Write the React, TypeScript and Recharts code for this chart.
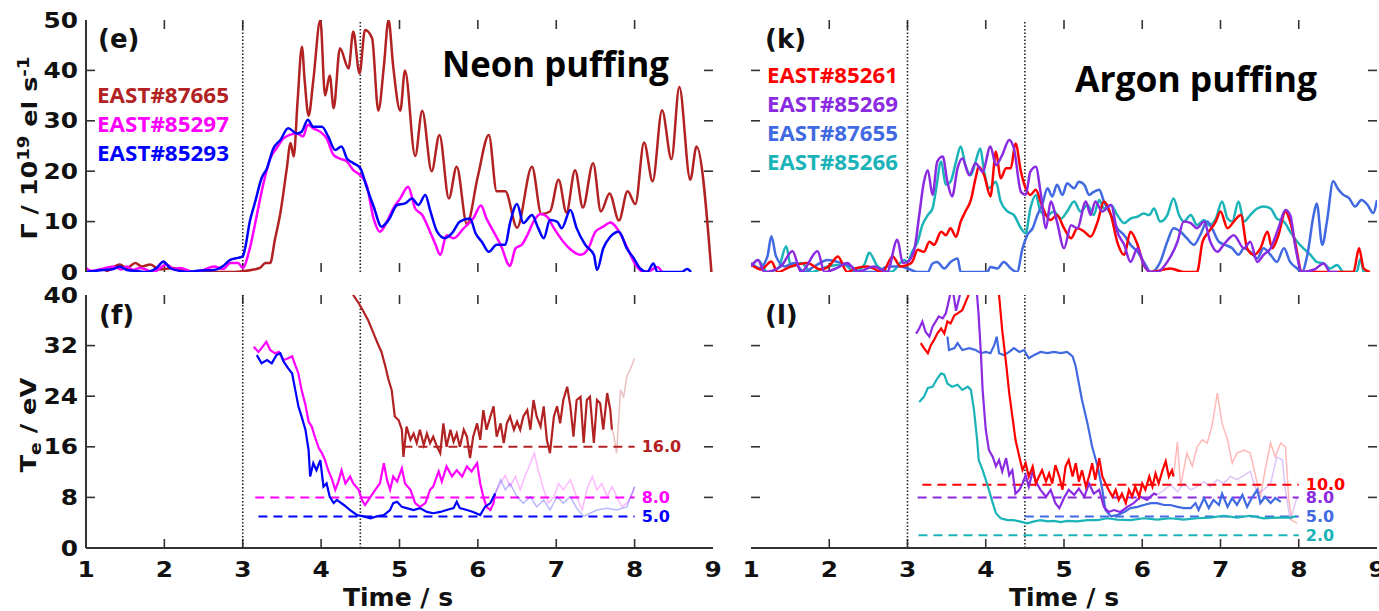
import { LineChart, Line, XAxis, YAxis, ReferenceLine } from 'recharts';

type Pt = [number, number];

// axis ticks
const timeTicks = [1, 2, 3, 4, 5, 6, 7, 8, 9];
const fluxTicks = [0, 10, 20, 30, 40, 50];
const teTicks = [0, 8, 16, 24, 32, 40];
const markerTimes = [3, 4.5];

const neonShots = ['EAST#87665', 'EAST#85297', 'EAST#85293'];
const argonShots = ['EAST#85261', 'EAST#85269', 'EAST#87655', 'EAST#85266'];

// (e) neon puffing rate, 1e19 el/s
const neonFlux87665: Pt[] = [
  [1.25, 0], [1.31, 0.5], [1.43, 1.5], [1.52, 0.8], [1.63, 1.8], [1.71, 1.1], [1.82, 1.5], [1.94, 0.5], [2.11, 0.8], [2.29, 0],
  [2.54, 0], [2.88, 0], [3.14, 0.5], [3.22, 0.8], [3.29, 1.8], [3.35, 1.8], [3.41, 6.4], [3.48, 11.7], [3.56, 20.3], [3.61, 25.6],
  [3.65, 22.9], [3.7, 34], [3.755, 44.7], [3.79, 38], [3.84, 31], [3.9, 38], [3.99, 50], [4.05, 35], [4.11, 39], [4.16, 32.5],
  [4.24, 44.4], [4.35, 40.4], [4.41, 47.7], [4.49, 39.4], [4.56, 48], [4.65, 46.4], [4.73, 32], [4.8, 40.7], [4.86, 50], [4.92, 40.7],
  [5.01, 32], [5.07, 40], [5.2, 23], [5.29, 32], [5.41, 20], [5.51, 27.2], [5.63, 14.6], [5.73, 20.9], [5.86, 9.5], [6.0, 19],
  [6.14, 27.2], [6.24, 16], [6.35, 16], [6.5, 8.8], [6.69, 20.9], [6.81, 11.5], [6.92, 12], [7.03, 18.3], [7.13, 11.8], [7.24, 20.2],
  [7.34, 12.8], [7.47, 21.6], [7.57, 12], [7.68, 15.6], [7.8, 10.2], [7.91, 16], [8.01, 13.5], [8.12, 25.7], [8.23, 18], [8.35, 32.1],
  [8.47, 22.4], [8.57, 36.7], [8.71, 18.3], [8.79, 24.9], [8.98, 0],
];
const neonFlux85297: Pt[] = [
  [1.0, 0.8], [1.07, 0.2], [1.2, 0.6], [1.35, 1.1], [1.45, 0.5], [1.52, 1.1], [1.6, 0.4], [1.69, 0.8], [1.86, 0], [2.03, 1.5],
  [2.12, 0.6], [2.2, 0.8], [2.37, 0], [2.5, 0.4], [2.63, 1.1], [2.75, 0.6], [2.84, 1.8], [2.94, 1.8], [3.0, 0.8], [3.09, 4.7],
  [3.18, 11.3], [3.26, 17.3], [3.35, 22.5], [3.43, 24.5], [3.52, 26.5], [3.6, 27.2], [3.69, 27.5], [3.77, 26.9], [3.83, 29.2], [3.9, 28.5],
  [3.99, 27.8], [4.07, 26.5], [4.16, 23.2], [4.24, 22.5], [4.33, 21.9], [4.41, 20.2], [4.5, 19.2], [4.58, 17.3], [4.67, 10.6], [4.75, 8],
  [4.84, 10], [4.92, 12.6], [5.01, 14.6], [5.11, 16.9], [5.2, 12.6], [5.29, 11.3], [5.37, 8.7], [5.46, 5.4], [5.52, 3.4], [5.6, 7.3],
  [5.69, 6.7], [5.82, 8.7], [5.94, 10.6], [6.04, 13.2], [6.11, 10.6], [6.2, 8], [6.29, 5.4], [6.41, 1.2], [6.48, 4.7], [6.56, 5.4],
  [6.63, 7.3], [6.71, 10], [6.8, 11.5], [6.88, 11], [6.97, 8.7], [7.09, 6], [7.18, 4.5], [7.31, 3.4], [7.41, 4.7], [7.5, 8],
  [7.6, 9], [7.69, 9.8], [7.82, 7.5], [7.9, 5], [8.01, 1.5], [8.11, 0], [8.2, 0.3], [8.29, 1], [8.35, 0],
];
const neonFlux85293: Pt[] = [
  [1.0, 0], [1.22, 0.4], [1.35, 0.6], [1.43, 1.1], [1.52, 0.4], [1.65, 0.2], [1.77, 0], [1.9, 0.8], [1.99, 2.1], [2.07, 0.8],
  [2.2, 0.2], [2.29, 0], [2.45, 0.3], [2.63, 0.4], [2.75, 1.2], [2.84, 2.4], [2.94, 2.8], [3.0, 3.1], [3.03, 4.7], [3.09, 10],
  [3.16, 14], [3.24, 18.6], [3.31, 20.6], [3.39, 24.5], [3.48, 26.2], [3.58, 28.5], [3.69, 27.5], [3.75, 27.8], [3.83, 30.2], [3.9, 28.8],
  [4.01, 28.8], [4.09, 26.9], [4.18, 24.2], [4.26, 24.9], [4.33, 22.5], [4.41, 21.6], [4.5, 20.6], [4.58, 16.9], [4.67, 13], [4.77, 9],
  [4.86, 10.3], [4.97, 13.3], [5.07, 13.6], [5.16, 14.6], [5.24, 13.3], [5.33, 15.3], [5.39, 12.3], [5.48, 8], [5.58, 6.7], [5.67, 7.7],
  [5.77, 10], [5.9, 10.6], [5.97, 7.7], [6.05, 6], [6.14, 4], [6.24, 5.4], [6.35, 5.4], [6.41, 9.7], [6.5, 13.5], [6.58, 9.7],
  [6.69, 11.3], [6.77, 8.7], [6.84, 6.7], [6.92, 10.3], [7.01, 10], [7.07, 8.7], [7.18, 12.3], [7.26, 8.7], [7.37, 5.4], [7.48, 3.4],
  [7.52, 0.4], [7.6, 4.7], [7.69, 7], [7.8, 8], [7.9, 4.7], [7.99, 2.7], [8.07, 0.7], [8.16, 0], [8.24, 1.7], [8.29, 0],
  [8.6, 0], [8.67, 0.6], [8.72, 0],
];

// (k) argon puffing rate
const argonFlux85261: Pt[] = [
  [1.0, 1.5], [1.13, 0.5], [1.26, 2.1], [1.34, 0], [1.51, 1.1], [1.72, 1.8], [1.89, 0.5], [2.0, 1.2], [2.11, 3.1], [2.23, 0],
  [2.35, 0.8], [2.49, 1.1], [2.68, 0], [2.81, 3.1], [2.91, 1.1], [3.0, 1.4], [3.06, 2], [3.13, 4.4], [3.21, 4], [3.28, 6],
  [3.34, 5.4], [3.43, 8], [3.49, 7.3], [3.55, 8.7], [3.62, 7], [3.68, 10], [3.74, 12], [3.81, 14.3], [3.87, 18.6], [3.91, 20.9],
  [3.98, 19.2], [4.06, 15], [4.13, 23.9], [4.19, 18.6], [4.26, 20.6], [4.32, 20.6], [4.38, 25.5], [4.45, 19.9], [4.51, 16.6], [4.57, 15.3],
  [4.64, 16.3], [4.7, 14], [4.77, 11.3], [4.83, 10.3], [4.91, 11.3], [5.0, 8.7], [5.09, 6.7], [5.17, 8.7], [5.26, 8], [5.34, 7],
  [5.43, 10], [5.51, 14], [5.6, 11.3], [5.68, 6], [5.77, 3.4], [5.85, 8], [5.94, 5.4], [6.02, 1.4], [6.11, 0], [6.36, 0.7],
  [6.53, 0], [6.7, 0], [6.77, 6], [6.85, 8], [6.94, 10], [7.0, 12], [7.09, 8.7], [7.17, 10], [7.26, 11.3], [7.34, 4.7],
  [7.43, 3.4], [7.51, 4.7], [7.6, 8], [7.66, 4.7], [7.74, 7.3], [7.83, 12], [7.89, 10], [7.96, 5.4], [8.04, 0], [8.32, 0],
  [8.7, 0], [8.77, 4.7], [8.83, 0.7], [8.91, 0],
];
const argonFlux85269: Pt[] = [
  [1.0, 1.1], [1.09, 2.4], [1.17, 0], [1.38, 1.1], [1.53, 4.1], [1.64, 0], [1.85, 4.1], [1.94, 0], [2.1, 0.8], [2.23, 1.8],
  [2.36, 0], [2.57, 1.1], [2.74, 0], [2.87, 6.4], [2.94, 1.8], [3.0, 2], [3.09, 4.7], [3.15, 11.3], [3.21, 17.9], [3.26, 20.2],
  [3.32, 15.3], [3.38, 21.9], [3.45, 22.9], [3.51, 17.9], [3.57, 15], [3.64, 20.6], [3.7, 22.5], [3.79, 19.2], [3.87, 21.6], [3.96, 19.9],
  [4.06, 24.9], [4.13, 21.2], [4.21, 23.2], [4.3, 26.2], [4.36, 24.5], [4.45, 15.9], [4.51, 15.3], [4.57, 19.9], [4.64, 20.9], [4.7, 15.9],
  [4.77, 8.7], [4.83, 14], [4.91, 10], [5.0, 4.7], [5.09, 9.3], [5.17, 8.7], [5.28, 14], [5.34, 11.3], [5.4, 14], [5.49, 12],
  [5.6, 13.3], [5.68, 8], [5.77, 5.4], [5.85, 2], [5.94, 4.7], [6.02, 1.4], [6.11, 0], [6.19, 0], [6.32, 2], [6.45, 6],
  [6.53, 10], [6.62, 9.7], [6.7, 8.7], [6.79, 10], [6.87, 6], [6.96, 4], [7.04, 5.4], [7.17, 7.3], [7.3, 4.7], [7.38, 6],
  [7.47, 2], [7.55, 3.4], [7.64, 4.7], [7.74, 8.7], [7.83, 12.3], [7.89, 11.3], [7.96, 4.7], [8.04, 0], [8.2, 0.5], [8.32, 1.7],
  [8.4, 0], [8.5, 0],
];
const argonFlux87655: Pt[] = [
  [1.0, 1.8], [1.11, 0.8], [1.21, 3.1], [1.26, 7.1], [1.32, 3.1], [1.43, 1.1], [1.55, 1.8], [1.68, 0], [1.81, 1.1], [1.98, 2.4],
  [2.15, 1.8], [2.28, 1.1], [2.4, 0], [2.62, 0], [2.74, 1.1], [2.91, 1.1], [3.0, 0.7], [3.13, 0], [3.26, 0], [3.32, 1.7],
  [3.38, 2], [3.47, 0.7], [3.55, 2], [3.64, 2.7], [3.68, 0], [3.85, 0], [4.02, 0], [4.06, 1], [4.15, 0.7], [4.23, 2],
  [4.32, 0.7], [4.4, 0], [4.47, 4.7], [4.53, 7.3], [4.6, 8.7], [4.66, 11.3], [4.72, 13.3], [4.79, 16.6], [4.85, 15], [4.91, 17.3],
  [4.98, 15.3], [5.04, 17.6], [5.13, 16.6], [5.19, 17.9], [5.26, 17.3], [5.32, 15.3], [5.38, 15.9], [5.45, 16.3], [5.51, 14], [5.6, 11.3],
  [5.68, 8.7], [5.77, 7.3], [5.85, 5.4], [5.94, 4], [6.02, 2], [6.11, 0], [6.23, 2], [6.32, 6], [6.4, 8.7], [6.49, 8],
  [6.57, 6.7], [6.66, 5.4], [6.74, 7.3], [6.83, 10], [6.89, 8.7], [6.98, 6], [7.06, 5.4], [7.15, 4.7], [7.23, 3.4], [7.3, 4.7],
  [7.38, 4], [7.47, 2.7], [7.55, 4.7], [7.64, 3.4], [7.72, 2], [7.81, 4.7], [7.89, 2], [7.98, 0.7], [8.04, 0], [8.11, 3.4],
  [8.19, 11.3], [8.23, 13.6], [8.3, 5.4], [8.36, 10], [8.44, 18], [8.5, 16.5], [8.57, 15.3], [8.64, 14.7], [8.72, 13], [8.8, 14.3],
  [8.88, 13.3], [8.95, 11.7], [9.0, 14.3],
];
const argonFlux85266: Pt[] = [
  [1.0, 1.1], [1.09, 2.4], [1.21, 0], [1.35, 0.8], [1.45, 5.1], [1.51, 1.1], [1.64, 1.8], [1.77, 0], [1.98, 1.1], [2.19, 1.5],
  [2.32, 0], [2.45, 1.5], [2.51, 3.8], [2.62, 1.1], [2.79, 0], [2.96, 2.4], [3.0, 2], [3.06, 4], [3.13, 6], [3.19, 9.3],
  [3.26, 11.3], [3.32, 12.6], [3.36, 15.9], [3.43, 21.9], [3.49, 17.3], [3.55, 17.9], [3.62, 21.9], [3.68, 24.9], [3.74, 21.2], [3.81, 19.2],
  [3.87, 21.9], [3.93, 24.5], [3.98, 19.9], [4.04, 16.6], [4.13, 17.9], [4.19, 14], [4.28, 12], [4.36, 11.3], [4.45, 8.7], [4.51, 7.7],
  [4.57, 12.6], [4.64, 15.3], [4.7, 12], [4.79, 11.3], [4.87, 12], [4.96, 10.6], [5.04, 12], [5.13, 14], [5.21, 12], [5.3, 13.3],
  [5.38, 11.3], [5.45, 14.3], [5.51, 12.6], [5.6, 13.3], [5.68, 11.3], [5.77, 9.7], [5.85, 10.6], [5.94, 11], [6.02, 11.6], [6.09, 11.3],
  [6.15, 12.6], [6.23, 10], [6.32, 11.3], [6.4, 14.6], [6.47, 11.3], [6.53, 10], [6.62, 11.3], [6.7, 9.3], [6.79, 10.3], [6.85, 9.3],
  [6.94, 10.6], [7.02, 14], [7.09, 10.6], [7.15, 10], [7.23, 14], [7.3, 10], [7.38, 11.3], [7.47, 12.6], [7.55, 13], [7.64, 12.6],
  [7.72, 10.6], [7.81, 10], [7.89, 8], [7.98, 6], [8.06, 4.7], [8.15, 3.4], [8.23, 2], [8.32, 1.7], [8.4, 0.7], [8.49, 1.4],
  [8.57, 0], [8.74, 0], [8.79, 2.7], [8.83, 0], [8.9, 0],
];

// (f) neon Te, eV (faded = later part drawn light)
const neonTe87665: Pt[] = [
  [4.38, 41], [4.41, 40], [4.48, 38.7], [4.54, 37.4], [4.6, 36], [4.67, 33.9], [4.73, 32.1], [4.77, 31], [4.82, 28.7], [4.86, 26.6],
  [4.9, 25], [4.94, 20.8], [4.99, 20.2], [5.03, 18.7], [5.05, 14.4], [5.09, 19.2], [5.14, 17.1], [5.18, 18.1], [5.22, 16.6], [5.26, 18.7],
  [5.31, 16.3], [5.35, 18.1], [5.39, 16.6], [5.43, 17.6], [5.48, 16], [5.52, 15], [5.56, 19.7], [5.6, 16], [5.65, 18.7], [5.69, 16.8],
  [5.73, 18.1], [5.77, 16], [5.82, 18.7], [5.86, 17.6], [5.9, 14.2], [5.94, 17.6], [5.99, 19.7], [6.03, 17.1], [6.07, 21.8], [6.11, 18.7],
  [6.16, 20.8], [6.2, 22.4], [6.24, 17.6], [6.29, 19.7], [6.33, 16.6], [6.37, 19.7], [6.41, 20.8], [6.46, 18.7], [6.5, 20], [6.54, 18.7],
  [6.58, 20.8], [6.63, 21.8], [6.67, 18.7], [6.71, 23.4], [6.75, 20.8], [6.8, 19.2], [6.84, 22.4], [6.88, 17.1], [6.92, 15], [6.97, 20.8],
  [7.01, 22.4], [7.05, 19.7], [7.09, 23.4], [7.14, 25.5], [7.18, 22.4], [7.22, 17.6], [7.26, 23.4], [7.31, 23.9], [7.35, 16.6], [7.39, 23.4],
  [7.43, 23.9], [7.48, 16.6], [7.52, 23.4], [7.56, 22.9], [7.6, 18.7], [7.65, 24.5], [7.69, 21.8], [7.71, 18.7],
];
const neonTe87665Faded: Pt[] = [
  [7.71, 18.7], [7.73, 18.1], [7.77, 15], [7.82, 25], [7.86, 23.9], [7.9, 27.1], [7.94, 28.1], [8.0, 30],
];
const neonTe85297: Pt[] = [
  [3.14, 31.8], [3.2, 31], [3.24, 31.6], [3.3, 32.6], [3.35, 31.3], [3.41, 30.8], [3.46, 31], [3.52, 29.7], [3.58, 30], [3.63, 30.3],
  [3.67, 28.9], [3.71, 27.6], [3.75, 25], [3.8, 22.6], [3.84, 20], [3.88, 19.2], [3.92, 17.6], [3.97, 15.8], [4.01, 15], [4.05, 13.9],
  [4.09, 12.3], [4.14, 10.8], [4.18, 9.2], [4.22, 10.5], [4.26, 12.3], [4.31, 10.2], [4.37, 11.3], [4.41, 10.2], [4.48, 9.2], [4.52, 7.6],
  [4.56, 6.8], [4.63, 8.1], [4.69, 9.2], [4.75, 10.2], [4.8, 13.4], [4.84, 10.8], [4.88, 9.2], [4.92, 11.3], [4.97, 10.5], [5.03, 12.6],
  [5.07, 10.2], [5.14, 9.2], [5.2, 7.1], [5.26, 6.5], [5.33, 7.1], [5.39, 9.2], [5.43, 9.7], [5.5, 12.1], [5.54, 10.5], [5.6, 12.9],
  [5.67, 11.3], [5.73, 12.3], [5.8, 11.3], [5.86, 12.9], [5.92, 12.1], [5.99, 13.4], [6.03, 10.2], [6.07, 8.1], [6.11, 6.5], [6.16, 6],
  [6.2, 7.1], [6.22, 8.6],
];
const neonTe85297Faded: Pt[] = [
  [6.22, 8.6], [6.29, 10.2], [6.35, 11.5], [6.41, 9.7], [6.48, 11.3], [6.54, 9.2], [6.6, 11.3], [6.67, 13.4], [6.72, 15], [6.77, 12.3],
  [6.84, 9.2], [6.9, 7.1], [6.97, 8.1], [7.03, 10.2], [7.09, 9.2], [7.18, 10.8], [7.26, 8.1], [7.33, 6], [7.39, 9.2], [7.46, 11.3],
  [7.52, 9.2], [7.58, 10.2], [7.65, 8.1], [7.71, 9.7], [7.77, 8.1], [7.84, 6.5], [7.9, 7.1], [7.97, 8.6], [8.0, 9.7],
];
const neonTe85293: Pt[] = [
  [3.18, 30.5], [3.24, 29.2], [3.31, 29.7], [3.37, 29.2], [3.43, 30.5], [3.48, 30.8], [3.52, 29.5], [3.58, 28.4], [3.63, 27.6], [3.67, 25],
  [3.71, 22.4], [3.75, 20.8], [3.8, 18.7], [3.84, 15.5], [3.86, 11.3], [3.9, 13.4], [3.94, 12.3], [3.99, 13.9], [4.03, 9.7], [4.07, 10.2],
  [4.11, 8.1], [4.16, 7.1], [4.2, 7.6], [4.29, 6.8], [4.37, 6], [4.46, 5.2], [4.54, 5], [4.63, 4.7], [4.71, 5], [4.8, 5.2],
  [4.88, 6], [4.92, 7.1], [4.97, 7.3], [5.03, 6.5], [5.09, 6.3], [5.18, 6], [5.26, 6.3], [5.35, 5.7], [5.43, 5.5], [5.52, 5.7],
  [5.6, 6], [5.69, 6.3], [5.73, 7.3], [5.77, 6.3], [5.86, 6], [5.94, 5.7], [6.03, 5.2], [6.09, 6.5], [6.16, 7.1], [6.22, 8.6],
];
const neonTe85293Faded: Pt[] = [
  [6.22, 8.6], [6.29, 10.8], [6.35, 9.2], [6.41, 10.2], [6.5, 8.1], [6.58, 7.1], [6.67, 8.1], [6.75, 6.5], [6.84, 7.6], [6.92, 6],
  [7.01, 8.1], [7.09, 7.1], [7.18, 8.1], [7.26, 6.3], [7.35, 5], [7.43, 5.5], [7.52, 6], [7.65, 6.3], [7.77, 6], [7.9, 6.5],
  [8.0, 9.7],
];

// (l) argon Te, eV
const argonTe85261: Pt[] = [
  [3.17, 32.4], [3.21, 31.6], [3.26, 30.8], [3.3, 32.1], [3.34, 32.9], [3.38, 33.9], [3.43, 34.7], [3.47, 33.9], [3.51, 35.8], [3.55, 35.5],
  [3.6, 36.8], [3.64, 37.1], [3.7, 37.6], [3.77, 39.7], [3.81, 41], [3.9, 44], [4.0, 46], [4.1, 44], [4.17, 40], [4.21, 34.5],
  [4.26, 29.2], [4.3, 24.5], [4.34, 20.8], [4.38, 17.1], [4.43, 14.4], [4.47, 12.3], [4.51, 13.4], [4.55, 11.3], [4.6, 12.9], [4.64, 10.2],
  [4.68, 11.3], [4.72, 12.3], [4.77, 10.5], [4.81, 11.8], [4.85, 10.2], [4.89, 13.1], [4.94, 11.3], [4.98, 9.2], [5.02, 12.9], [5.06, 13.9],
  [5.11, 11.3], [5.15, 13.4], [5.19, 10.5], [5.23, 12.3], [5.28, 9.7], [5.32, 11.3], [5.36, 13.4], [5.4, 10.8], [5.45, 14.2], [5.49, 11.3],
  [5.53, 10.2], [5.57, 9.2], [5.62, 8.1], [5.66, 9.2], [5.7, 7.6], [5.74, 8.6], [5.79, 7.1], [5.83, 9.2], [5.87, 8.1], [5.91, 9.7],
  [5.96, 8.1], [6.0, 10.2], [6.04, 9.2], [6.09, 11.3], [6.13, 9.7], [6.17, 11.8], [6.21, 10.2], [6.26, 12.3], [6.3, 13.7], [6.34, 11.3],
  [6.38, 12.3], [6.4, 11.3],
];
const argonTe85261Faded: Pt[] = [
  [6.4, 11.3], [6.45, 16.8], [6.49, 9.7], [6.57, 15], [6.64, 12.9], [6.7, 16], [6.77, 17.1], [6.83, 16.6], [6.89, 19.2], [6.96, 24.5],
  [7.02, 19.7], [7.09, 17.1], [7.15, 13.4], [7.21, 15], [7.3, 15.5], [7.38, 15], [7.45, 11.3], [7.51, 8.1], [7.57, 12.3], [7.64, 16.6],
  [7.7, 14.4], [7.77, 16.6], [7.83, 16], [7.87, 8.1], [7.91, 4.4], [7.98, 3.9],
];
const argonTe85269: Pt[] = [
  [3.11, 33.9], [3.15, 34.7], [3.19, 35.8], [3.23, 34.2], [3.28, 33.4], [3.32, 35], [3.36, 35.8], [3.4, 36.6], [3.45, 36.3], [3.49, 37.1],
  [3.53, 39.2], [3.57, 41.5], [3.62, 37.5], [3.66, 39.5], [3.71, 42.5], [3.8, 44], [3.88, 41.5], [3.91, 36.6], [3.94, 30.3], [3.96, 25],
  [4.0, 18.7], [4.04, 15.5], [4.09, 14.4], [4.13, 12.9], [4.17, 13.9], [4.21, 12.1], [4.26, 14.2], [4.3, 11.5], [4.34, 12.3], [4.38, 8.6],
  [4.43, 9.2], [4.47, 10.2], [4.51, 11.5], [4.55, 9.7], [4.6, 12.1], [4.64, 10.5], [4.7, 9.2], [4.77, 8.1], [4.83, 9.2], [4.89, 7.1],
  [4.94, 6.3], [5.0, 7.9], [5.06, 9.2], [5.13, 8.4], [5.19, 9.4], [5.26, 8.1], [5.32, 10.2], [5.38, 8.6], [5.45, 9.2], [5.51, 6.5],
  [5.57, 5.7], [5.64, 6], [5.72, 5.7], [5.81, 6.5], [5.89, 7.1], [5.98, 8.1], [6.06, 7.6], [6.15, 8.6], [6.19, 8.4],
];
const argonTe85269Faded: Pt[] = [
  [6.19, 8.4], [6.28, 9.2], [6.36, 10], [6.45, 8.9], [6.53, 10.2], [6.62, 9.2], [6.7, 9.7], [6.79, 10.5], [6.87, 9.7], [6.96, 10.8],
  [7.04, 10.2], [7.13, 11.3], [7.21, 10.8], [7.3, 11.5], [7.38, 12.1], [7.47, 8.6], [7.55, 9.2], [7.64, 10.2], [7.72, 14.4], [7.79, 13.9],
  [7.83, 9.2], [7.89, 4.4], [7.98, 8.1],
];
const argonTe87655: Pt[] = [
  [3.51, 33.4], [3.53, 31.3], [3.6, 31.6], [3.64, 32.4], [3.7, 31.3], [3.79, 31.6], [3.87, 31.3], [3.94, 30.8], [4.0, 31], [4.06, 30.8],
  [4.11, 32.1], [4.14, 33.4], [4.17, 30.8], [4.23, 30.5], [4.3, 31], [4.36, 31.6], [4.43, 31], [4.49, 31.3], [4.55, 30], [4.62, 30.5],
  [4.7, 31], [4.79, 30.8], [4.87, 31], [4.96, 30.8], [5.04, 31], [5.11, 30.3], [5.15, 28.7], [5.19, 26], [5.23, 23.4], [5.3, 19.7],
  [5.36, 16], [5.43, 12.9], [5.49, 9.2], [5.53, 6], [5.6, 5], [5.68, 5.2], [5.77, 5.7], [5.85, 6.3], [5.94, 6.5], [6.02, 6.8],
  [6.11, 7.1], [6.19, 7.1], [6.28, 6.8], [6.36, 6.8], [6.45, 6.5], [6.53, 6.3], [6.62, 6.3], [6.68, 7.1], [6.72, 6], [6.79, 7.9],
  [6.85, 6.3], [6.91, 7.6], [6.98, 6.8], [7.02, 8.6], [7.09, 6.5], [7.15, 7.9], [7.21, 6.8], [7.28, 8.4], [7.34, 6.5], [7.4, 7.9],
  [7.47, 9.2], [7.51, 7.1], [7.57, 8.1], [7.64, 7.1], [7.7, 7.9], [7.77, 7.3],
];
const argonTe85266: Pt[] = [
  [3.15, 23.1], [3.21, 23.9], [3.26, 25.3], [3.32, 25.5], [3.38, 26.8], [3.43, 27.6], [3.47, 27.4], [3.51, 26], [3.57, 25.5], [3.64, 25.8],
  [3.7, 25], [3.77, 25.5], [3.81, 25], [3.85, 21.8], [3.89, 17.1], [3.91, 13.9], [3.96, 12.3], [4.0, 10.8], [4.04, 9.2], [4.09, 7.1],
  [4.13, 5.5], [4.19, 4.7], [4.28, 4.4], [4.36, 4.4], [4.43, 4.2], [4.53, 3.9], [4.62, 4.2], [4.7, 4.4], [4.79, 4.2], [4.87, 4.3],
  [4.96, 4.1], [5.04, 4.3], [5.17, 4.2], [5.3, 4.4], [5.43, 4.4], [5.55, 4.7], [5.68, 4.5], [5.85, 4.4], [6.02, 4.7], [6.19, 4.5],
  [6.36, 4.7], [6.53, 4.5], [6.7, 4.7], [6.87, 4.8], [7.04, 5.1], [7.21, 4.8], [7.38, 5.1], [7.55, 4.7], [7.72, 4.8], [7.89, 4.8],
  [7.96, 5],
];

// detachment threshold levels (value, start time); all end at 8 s
const neonLevels = [16, 8, 5];
const neonLevelStart = [5.05, 3.16, 3.2];
const argonLevels = [10, 8, 5, 2];
const argonLevelStart = [3.19, 3.13, 4.5, 3.14];
const levelEnd = 8;

const BROWN = '#b22222';
const MAGENTA = '#ff00ff';
const BLUE = '#0000ff';
const RED = '#ff0000';
const PURPLE = '#8a2be2';
const ROYAL = '#4169e1';
const CYAN = '#1ab4b8';

const neonColors = [BROWN, MAGENTA, BLUE];
const argonColors = [RED, PURPLE, ROYAL, CYAN];

const AXIS = '#333';
const FONT = 'DejaVu Sans';
const TITLE_FONT = 'Open Sans';
const TICK_LEN = 9; // px, ticks point into the frame

const toRows = (arr: Pt[]) => arr.map(([t, v]) => ({ t, v }));

const XLabel = ({ x, y, payload }: any) => (
  <g transform={`translate(${x},${y + 29}) scale(1.18,1)`}>
    <text x={0} y={0} textAnchor="middle" fontFamily={FONT} fontWeight="bold" fontSize={21} fill="#111" stroke="none">
      {payload.value}
    </text>
  </g>
);
const YLabel = ({ x, y, payload }: any) => (
  <g transform={`translate(${x - 8},${y + 7.5}) scale(1.18,1)`}>
    <text x={0} y={0} textAnchor="end" fontFamily={FONT} fontWeight="bold" fontSize={21} fill="#111" stroke="none">
      {payload.value}
    </text>
  </g>
);

interface Series {
  data: Pt[];
  color: string;
  faded?: boolean;
}

interface PanelProps {
  left: number;
  top: number;
  width: number;
  height: number;
  margin: { top: number; right: number; bottom: number; left: number };
  yMax: number;
  yTicks: number[];
  yWidth: number;
  showX: boolean;
  showY: boolean;
  smooth: boolean;
  series: Series[];
  levels?: { value: number; from: number; color: string }[];
}

function Panel({ left, top, width, height, margin, yMax, yTicks, yWidth, showX, showY, smooth, series, levels = [] }: PanelProps) {
  const axisLine = { stroke: AXIS, strokeWidth: 2 };
  const xH = showX ? 40 : 0;
  const plotW = width - margin.left - margin.right - yWidth;
  const plotH = height - margin.top - margin.bottom - xH;
  const x0 = timeTicks[0];
  const x1 = timeTicks[timeTicks.length - 1];
  // tick length converted to data units of each axis
  const dx = ((x1 - x0) * TICK_LEN) / plotW;
  const dy = (yMax * TICK_LEN) / plotH;
  const innerX = timeTicks.slice(1, -1);
  const innerY = yTicks.slice(1, -1);
  const tickStyle = { stroke: AXIS, strokeWidth: 1.6 };

  return (
    <div style={{ position: 'absolute', left, top }}>
      <LineChart width={width} height={height} margin={margin}>
        <XAxis
          xAxisId="b"
          type="number"
          dataKey="t"
          domain={[x0, x1]}
          ticks={timeTicks}
          interval={0}
          allowDataOverflow
          height={xH}
          tickSize={0}
          tickMargin={0}
          axisLine={axisLine}
          tickLine={false}
          tick={showX ? <XLabel /> : false}
        />
        <XAxis xAxisId="t" orientation="top" type="number" dataKey="t" domain={[x0, x1]} height={0} axisLine={axisLine} tickLine={false} tick={false} />
        <YAxis
          yAxisId="l"
          type="number"
          domain={[0, yMax]}
          ticks={yTicks}
          interval={0}
          allowDataOverflow
          width={yWidth}
          tickSize={0}
          tickMargin={0}
          axisLine={axisLine}
          tickLine={false}
          tick={showY ? <YLabel /> : false}
        />
        <YAxis yAxisId="r" orientation="right" type="number" domain={[0, yMax]} width={0} axisLine={axisLine} tickLine={false} tick={false} />

        {innerX.map((t) => (
          <ReferenceLine key={`xb${t}`} xAxisId="b" yAxisId="l" segment={[{ x: t, y: 0 }, { x: t, y: dy }]} {...tickStyle} />
        ))}
        {innerX.map((t) => (
          <ReferenceLine key={`xt${t}`} xAxisId="b" yAxisId="l" segment={[{ x: t, y: yMax - dy }, { x: t, y: yMax }]} {...tickStyle} />
        ))}
        {innerY.map((v) => (
          <ReferenceLine key={`yl${v}`} xAxisId="b" yAxisId="l" segment={[{ x: x0, y: v }, { x: x0 + dx, y: v }]} {...tickStyle} />
        ))}
        {innerY.map((v) => (
          <ReferenceLine key={`yr${v}`} xAxisId="b" yAxisId="l" segment={[{ x: x1 - dx, y: v }, { x: x1, y: v }]} {...tickStyle} />
        ))}

        {markerTimes.map((m) => (
          <ReferenceLine key={m} x={m} xAxisId="b" yAxisId="l" stroke="#222" strokeWidth={1.6} strokeDasharray="1.5 2" />
        ))}
        {levels.map((lv) => (
          <ReferenceLine
            key={`${lv.value}-${lv.color}`}
            xAxisId="b"
            yAxisId="l"
            segment={[{ x: lv.from, y: lv.value }, { x: levelEnd, y: lv.value }]}
            stroke={lv.color}
            strokeWidth={2}
            strokeDasharray="9 6"
            label={{
              value: lv.value.toFixed(1),
              position: 'right',
              offset: 7,
              fill: lv.color,
              fontSize: 16,
              fontWeight: 'bold',
              fontFamily: FONT,
            }}
          />
        ))}
        {series.map((s, i) => (
          <Line
            key={i}
            xAxisId="b"
            yAxisId="l"
            data={toRows(s.data)}
            dataKey="v"
            type={smooth ? 'monotone' : 'linear'}
            stroke={s.color}
            strokeOpacity={s.faded ? 0.28 : 1}
            strokeWidth={s.faded ? 1.5 : smooth ? 2.5 : 2.2}
            dot={false}
            activeDot={false}
            isAnimationActive={false}
          />
        ))}
      </LineChart>
    </div>
  );
}

export default function App() {
  const textBold = { fontFamily: FONT, fontWeight: 'bold' as const, fill: '#111' };
  return (
    <div style={{ position: 'absolute', left: 0, top: 0, width: 1379, height: 611, background: '#fff' }}>
      <Panel
        left={0}
        top={0}
        width={735}
        height={290}
        margin={{ top: 20, right: 22, bottom: 18, left: 26 }}
        yMax={50}
        yTicks={fluxTicks}
        yWidth={60}
        showX={false}
        showY
        smooth
        series={[
          { data: neonFlux87665, color: BROWN },
          { data: neonFlux85297, color: MAGENTA },
          { data: neonFlux85293, color: BLUE },
        ]}
      />
      <Panel
        left={0}
        top={280}
        width={735}
        height={331}
        margin={{ top: 15, right: 22, bottom: 23, left: 26 }}
        yMax={40}
        yTicks={teTicks}
        yWidth={60}
        showX
        showY
        smooth={false}
        series={[
          { data: neonTe87665Faded, color: BROWN, faded: true },
          { data: neonTe85297Faded, color: MAGENTA, faded: true },
          { data: neonTe85293Faded, color: BLUE, faded: true },
          { data: neonTe87665, color: BROWN },
          { data: neonTe85297, color: MAGENTA },
          { data: neonTe85293, color: BLUE },
        ]}
        levels={neonLevels.map((v, i) => ({ value: v, from: neonLevelStart[i], color: neonColors[i] }))}
      />
      <Panel
        left={720}
        top={0}
        width={659}
        height={290}
        margin={{ top: 20, right: 2, bottom: 18, left: 31 }}
        yMax={50}
        yTicks={fluxTicks}
        yWidth={0}
        showX={false}
        showY={false}
        smooth
        series={[
          { data: argonFlux85266, color: CYAN },
          { data: argonFlux87655, color: ROYAL },
          { data: argonFlux85261, color: RED },
          { data: argonFlux85269, color: PURPLE },
        ]}
      />
      <Panel
        left={720}
        top={280}
        width={659}
        height={331}
        margin={{ top: 15, right: 2, bottom: 23, left: 31 }}
        yMax={40}
        yTicks={teTicks}
        yWidth={0}
        showX
        showY={false}
        smooth={false}
        series={[
          { data: argonTe85261Faded, color: RED, faded: true },
          { data: argonTe85269Faded, color: PURPLE, faded: true },
          { data: argonTe85266, color: CYAN },
          { data: argonTe87655, color: ROYAL },
          { data: argonTe85269, color: PURPLE },
          { data: argonTe85261, color: RED },
        ]}
        levels={argonLevels.map((v, i) => ({ value: v, from: argonLevelStart[i], color: argonColors[i] }))}
      />

      <svg width={1379} height={611} style={{ position: 'absolute', left: 0, top: 0, pointerEvents: 'none' }}>
        <text x={98} y={48} fontSize={26} {...textBold}>(e)</text>
        <text x={99} y={324} fontSize={26} {...textBold}>(f)</text>
        <text x={765} y={48} fontSize={26} {...textBold}>(k)</text>
        <text x={765} y={324} fontSize={26} {...textBold}>(l)</text>

        <text x={442} y={77} fontFamily={TITLE_FONT} fontWeight={700} fontSize={36} fill="#000" textLength={227} lengthAdjust="spacingAndGlyphs">
          Neon puffing
        </text>
        <text x={1075} y={92} fontFamily={TITLE_FONT} fontWeight={700} fontSize={36} fill="#000" textLength={242} lengthAdjust="spacingAndGlyphs">
          Argon puffing
        </text>

        {neonShots.map((s, i) => (
          <text key={s} x={97} y={103 + i * 29.2} fontFamily={TITLE_FONT} fontWeight={700} fontSize={22} fill={neonColors[i]} textLength={132} lengthAdjust="spacingAndGlyphs">
            {s}
          </text>
        ))}
        {argonShots.map((s, i) => (
          <text key={s} x={767} y={83 + i * 29} fontFamily={TITLE_FONT} fontWeight={700} fontSize={22} fill={argonColors[i]} textLength={131} lengthAdjust="spacingAndGlyphs">
            {s}
          </text>
        ))}

        <text transform="translate(37,148) rotate(-90)" textAnchor="middle" fontSize={21} {...textBold} textLength={183} lengthAdjust="spacingAndGlyphs">
          Γ / 10<tspan dy={-8} fontSize={15}>19</tspan>
          <tspan dy={8}> el s</tspan>
          <tspan dy={-8} fontSize={15}>-1</tspan>
        </text>
        <text transform="translate(36,425) rotate(-90)" textAnchor="middle" fontSize={22} {...textBold} textLength={95} lengthAdjust="spacingAndGlyphs">
          T<tspan dy={5} fontSize={16}>e</tspan>
          <tspan dy={-5}> / eV</tspan>
        </text>

        <text x={398} y={606} textAnchor="middle" fontSize={25} {...textBold}>Time / s</text>
        <text x={1064} y={606} textAnchor="middle" fontSize={25} {...textBold}>Time / s</text>
      </svg>
    </div>
  );
}
